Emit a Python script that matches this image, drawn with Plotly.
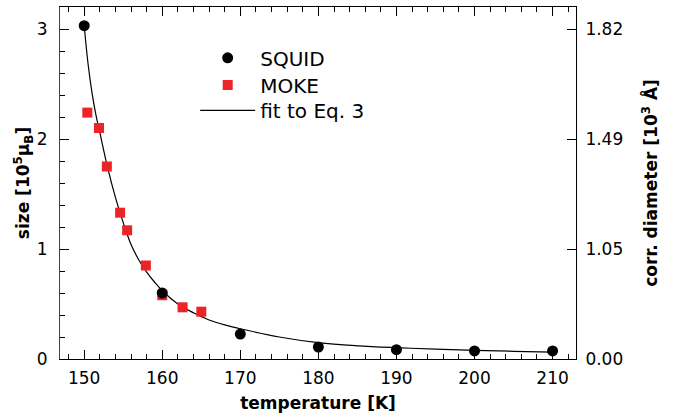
import plotly.graph_objects as go

# SQUID data
squid_T = [150, 160, 170, 180, 190, 200, 210]
squid_size = [3.03, 0.60, 0.227, 0.109, 0.085, 0.073, 0.073]

# MOKE data
moke_T = [150.4, 151.9, 152.9, 154.6, 155.5, 157.9, 160.0, 162.6, 165.0]
moke_size = [2.24, 2.10, 1.75, 1.33, 1.17, 0.85, 0.58, 0.47, 0.43]

# fit to Eq. 3
fit_T = [150, 150.5, 151, 151.5, 152, 153, 154, 155, 156, 157, 158, 159, 160,
         162, 164, 166, 168, 170, 175, 180, 185, 190, 195, 200, 205, 210]
fit_size = [3.03, 2.68, 2.42, 2.22, 2.06, 1.74, 1.47, 1.24, 1.04, 0.90, 0.79, 0.70, 0.62,
            0.50, 0.42, 0.355, 0.31, 0.275, 0.20, 0.148, 0.12, 0.103, 0.09, 0.079, 0.07, 0.062]

# right-axis tick labels (corr. diameter)
right_tickvals = [0, 1, 2, 3]
right_ticktext = ["0.00", "1.05", "1.49", "1.82"]

FONT = "DejaVu Sans, Verdana, sans-serif"
RED = "#ec2427"

fig = go.Figure()
fig.add_trace(go.Scatter(x=fit_T, y=fit_size, mode="lines", name="fit to Eq. 3", legend="legend3",
                         line=dict(color="black", width=1.2, shape="spline", smoothing=1.0)))
fig.add_trace(go.Scatter(x=moke_T, y=moke_size, mode="markers", name="MOKE", legend="legend2",
                         marker=dict(symbol="square", size=10, color=RED)))
fig.add_trace(go.Scatter(x=squid_T, y=squid_size, mode="markers", name="SQUID", legend="legend",
                         marker=dict(symbol="circle", size=11, color="black")))
# invisible trace to anchor the right axis
fig.add_trace(go.Scatter(x=[150], y=[0], yaxis="y2", mode="markers",
                         marker=dict(opacity=0), showlegend=False, hoverinfo="skip"))

leg_common = dict(x=0.262, xanchor="left", yanchor="top", bgcolor="rgba(0,0,0,0)",
                  font=dict(size=20), itemwidth=55)

fig.update_layout(
    width=674, height=416,
    margin=dict(l=60, r=98, t=7, b=57),
    paper_bgcolor="white", plot_bgcolor="white",
    font=dict(family=FONT, size=17, color="black"),
    showlegend=True,
    legend=dict(y=0.911, **leg_common),
    legend2=dict(y=0.834, **leg_common),
    legend3=dict(y=0.762, **leg_common),
    xaxis=dict(range=[146.9, 213.0], tickvals=[150, 160, 170, 180, 190, 200, 210],
               ticks="inside", ticklen=9, tickwidth=1, tickcolor="black",
               minor=dict(dtick=2, ticks="inside", ticklen=5, tickcolor="black"),
               showline=True, linecolor="black", linewidth=1, mirror="ticks",
               showgrid=False, zeroline=False, automargin=False, ticklabelstandoff=4,
               title=dict(text="<b>temperature [K]</b>", standoff=9, font=dict(size=17)),
               tickfont=dict(size=17)),
    yaxis=dict(range=[0, 3.2], tickvals=[0, 1, 2, 3],
               ticks="inside", ticklen=9, tickwidth=1, tickcolor="black",
               minor=dict(dtick=0.2, ticks="inside", ticklen=5, tickcolor="black"),
               showline=True, linecolor="#444", linewidth=1, mirror=True,
               showgrid=False, zeroline=False, automargin=False, ticklabelstandoff=8,
               title=dict(text="<b>size [10<sup>5</sup>µ<sub>B</sub>]</b>", standoff=2, font=dict(size=17)),
               tickfont=dict(size=17)),
    yaxis2=dict(range=[0, 3.2], overlaying="y", side="right", anchor="x",
                tickvals=right_tickvals, ticktext=right_ticktext,
                ticks="inside", ticklen=9, tickwidth=1, tickcolor="black",
                showline=True, linecolor="black", linewidth=1,
                showgrid=False, zeroline=False, automargin=False, ticklabelstandoff=5,
                title=dict(text="<b>corr. diameter [10<sup>3</sup> Å]</b>", standoff=22, font=dict(size=17)),
                tickfont=dict(size=17)),
)

fig.write_html("out.html", config={"displayModeBar": False},
               post_script="document.body.style.margin='0';")
